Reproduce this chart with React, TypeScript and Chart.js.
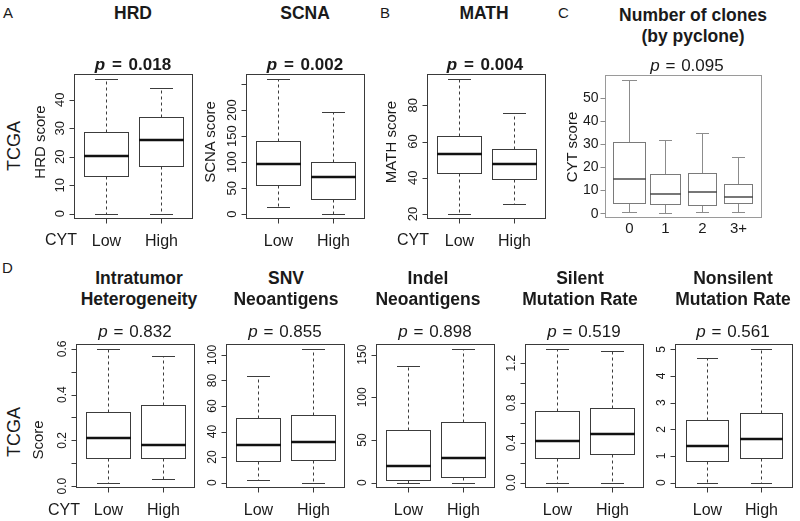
import React, { useEffect, useRef } from "react";
import { Chart, registerables } from "chart.js";

Chart.register(...registerables);

// ---------------- data ----------------
const CYT_GROUPS = ["Low", "High"];
const CLONE_GROUPS = ["0", "1", "2", "3+"];

// five-number summaries: [min whisker, Q1, median, Q3, max whisker]
const HRD_LOW = [0, 13.2, 20.2, 28.7, 47.2];
const HRD_HIGH = [0, 16.6, 26.0, 34.0, 44.3];
const HRD_TICKS = [0, 10, 20, 30, 40];
const HRD_TICK_LABELS = ["0", "10", "20", "30", "40"];

const SCNA_LOW = [13.5, 56.7, 96.8, 141, 259];
const SCNA_HIGH = [1.2, 29.6, 72.2, 101, 196];
const SCNA_TICKS = [0, 50, 100, 150, 200, 250];
const SCNA_TICK_LABELS = ["0", "50", "100", "150", "200", ""];

const MATH_LOW = [20.2, 42.8, 53.0, 63.2, 94.3];
const MATH_HIGH = [25.6, 39.1, 47.6, 55.6, 75.8];
const MATH_TICKS = [20, 40, 60, 80];
const MATH_TICK_LABELS = ["20", "40", "60", "80"];

const CLONES_0 = [0.6, 4.6, 15.0, 30.6, 57.5];
const CLONES_1 = [0.2, 3.9, 8.1, 17.1, 31.8];
const CLONES_2 = [0.4, 3.6, 9.1, 17.5, 34.9];
const CLONES_3P = [0.7, 4.5, 6.8, 12.7, 24.4];
const CLONES_TICKS = [0, 10, 20, 30, 40, 50];
const CLONES_TICK_LABELS = ["0", "10", "20", "30", "40", "50"];

const ITH_LOW = [0.015, 0.122, 0.212, 0.326, 0.598];
const ITH_HIGH = [0.032, 0.122, 0.179, 0.354, 0.568];
const ITH_TICKS = [0, 0.1, 0.2, 0.3, 0.4, 0.5, 0.6];
const ITH_TICK_LABELS = ["0.0", "", "0.2", "", "0.4", "", "0.6"];

const SNV_LOW = [1.8, 16.8, 29.3, 51.0, 83.6];
const SNV_HIGH = [0, 17.8, 32.0, 52.9, 104.4];
const SNV_TICKS = [0, 20, 40, 60, 80, 100];
const SNV_TICK_LABELS = ["0", "20", "40", "60", "80", "100"];

const INDEL_LOW = [0, 3.2, 19.7, 62.0, 136.2];
const INDEL_HIGH = [0, 6.7, 29.4, 70.7, 156.2];
const INDEL_TICKS = [0, 50, 100, 150];
const INDEL_TICK_LABELS = ["0", "50", "100", "150"];

const SILENT_LOW = [0, 0.249, 0.417, 0.723, 1.338];
const SILENT_HIGH = [0, 0.286, 0.488, 0.75, 1.325];
const SILENT_TICKS = [0, 0.2, 0.4, 0.6, 0.8, 1.0, 1.2];
const SILENT_TICK_LABELS = ["0.0", "", "0.4", "", "0.8", "", "1.2"];

const NONSILENT_LOW = [0, 0.8, 1.38, 2.35, 4.66];
const NONSILENT_HIGH = [0, 0.92, 1.64, 2.62, 5.0];
const NONSILENT_TICKS = [0, 1, 2, 3, 4, 5];
const NONSILENT_TICK_LABELS = ["0", "1", "2", "3", "4", "5"];

// ---------------- style / layout ----------------
const FONT = '"Liberation Sans", Arial, Helvetica, sans-serif';
const TEXT = "#1a1a1a";
const PAD = { l: 34, t: 4, r: 4, b: 32 };
const CLONE_BOX_WIDTHS = [0.92, 0.84, 0.8, 0.79];

type Spec = {
  key: string;
  frame: [number, number, number, number];
  groups: string[];
  stats: number[][];
  ticks: number[];
  tickLabels: string[];
  style: "r" | "c";
  tickFont: number;
  widths?: number[];
};

const TOP_T = 74;
const TOP_B = 219;
const BOT_T = 344;
const BOT_B = 488;

const PANELS: Spec[] = [
  { key: "hrd", frame: [74, TOP_T, 193, TOP_B], groups: CYT_GROUPS, stats: [HRD_LOW, HRD_HIGH], ticks: HRD_TICKS, tickLabels: HRD_TICK_LABELS, style: "r", tickFont: 13 },
  { key: "scna", frame: [246, TOP_T, 365, TOP_B], groups: CYT_GROUPS, stats: [SCNA_LOW, SCNA_HIGH], ticks: SCNA_TICKS, tickLabels: SCNA_TICK_LABELS, style: "r", tickFont: 13 },
  { key: "math", frame: [427, TOP_T, 546, TOP_B], groups: CYT_GROUPS, stats: [MATH_LOW, MATH_HIGH], ticks: MATH_TICKS, tickLabels: MATH_TICK_LABELS, style: "r", tickFont: 13 },
  { key: "clones", frame: [605, 75, 762, 218], groups: CLONE_GROUPS, stats: [CLONES_0, CLONES_1, CLONES_2, CLONES_3P], ticks: CLONES_TICKS, tickLabels: CLONES_TICK_LABELS, style: "c", tickFont: 14, widths: CLONE_BOX_WIDTHS },
  { key: "ith", frame: [76, BOT_T, 195, BOT_B], groups: CYT_GROUPS, stats: [ITH_LOW, ITH_HIGH], ticks: ITH_TICKS, tickLabels: ITH_TICK_LABELS, style: "r", tickFont: 12 },
  { key: "snv", frame: [226, BOT_T, 345, BOT_B], groups: CYT_GROUPS, stats: [SNV_LOW, SNV_HIGH], ticks: SNV_TICKS, tickLabels: SNV_TICK_LABELS, style: "r", tickFont: 12 },
  { key: "indel", frame: [376, BOT_T, 495, BOT_B], groups: CYT_GROUPS, stats: [INDEL_LOW, INDEL_HIGH], ticks: INDEL_TICKS, tickLabels: INDEL_TICK_LABELS, style: "r", tickFont: 12 },
  { key: "silent", frame: [525, BOT_T, 644, BOT_B], groups: CYT_GROUPS, stats: [SILENT_LOW, SILENT_HIGH], ticks: SILENT_TICKS, tickLabels: SILENT_TICK_LABELS, style: "r", tickFont: 12 },
  { key: "nonsilent", frame: [675, BOT_T, 793, BOT_B], groups: CYT_GROUPS, stats: [NONSILENT_LOW, NONSILENT_HIGH], ticks: NONSILENT_TICKS, tickLabels: NONSILENT_TICK_LABELS, style: "r", tickFont: 12 },
];

function seg(ctx: CanvasRenderingContext2D, x1: number, y1: number, x2: number, y2: number) {
  ctx.beginPath();
  ctx.moveTo(x1, y1);
  ctx.lineTo(x2, y2);
  ctx.stroke();
}

function makeBoxPlugin(spec: Spec) {
  return {
    id: "box-" + spec.key,
    afterDatasetsDraw(chart: any) {
      const { ctx, chartArea: a } = chart;
      const xs = chart.scales.x;
      const ys = chart.scales.y;
      const isR = spec.style === "r";
      const L = Math.round(a.left) + 0.5;
      const T = Math.round(a.top) + 0.5;
      const Rt = Math.round(a.right) - 0.5;
      const B = Math.round(a.bottom) - 0.5;
      const py = (v: number) => Math.round(ys.getPixelForValue(v)) + 0.5;
      ctx.save();
      ctx.lineCap = "butt";

      spec.stats.forEach((s, i) => {
        const xc = Math.round(xs.getPixelForValue(i + 1)) + 0.5;
        const w = spec.widths ? spec.widths[i] : 0.8;
        const hw = xs.getPixelForValue(i + 1 + w / 2) - xs.getPixelForValue(i + 1);
        const cw = hw * (isR ? 0.5 : 0.45);
        const [yMin, yQ1, , yQ3, yMax] = s.map(py);
        // whiskers
        ctx.lineWidth = 1;
        ctx.strokeStyle = isR ? "#3c3c3c" : "#8c8c8c";
        ctx.setLineDash(isR ? [3, 3] : []);
        seg(ctx, xc, yQ3, xc, yMax);
        seg(ctx, xc, yQ1, xc, yMin);
        ctx.setLineDash([]);
        // staples
        seg(ctx, Math.round(xc - cw), yMax, Math.round(xc + cw), yMax);
        seg(ctx, Math.round(xc - cw), yMin, Math.round(xc + cw), yMin);
        // box
        const bl = Math.round(xc - hw) + 0.5;
        const br = Math.round(xc + hw) - 0.5;
        ctx.fillStyle = "#ffffff";
        ctx.fillRect(bl, yQ3, br - bl, yQ1 - yQ3);
        ctx.strokeStyle = isR ? "#3c3c3c" : "#7a7a7a";
        ctx.strokeRect(bl, yQ3, br - bl, yQ1 - yQ3);
        // median
        ctx.strokeStyle = isR ? "#111111" : "#4a4a4a";
        ctx.lineWidth = isR ? 2.6 : 1.5;
        const ym = Math.round(ys.getPixelForValue(s[2]));
        seg(ctx, bl - 0.5, ym, br + 0.5, ym);
        ctx.lineWidth = 1;
      });

      // frame
      ctx.strokeStyle = isR ? "#3a3a3a" : "#9a9a9a";
      ctx.lineWidth = 1;
      ctx.strokeRect(L, T, Rt - L, B - T);

      // y ticks + labels
      ctx.fillStyle = TEXT;
      ctx.font = `${spec.tickFont}px ${FONT}`;
      spec.ticks.forEach((v, i) => {
        const y = py(v);
        ctx.strokeStyle = isR ? "#3a3a3a" : "#8c8c8c";
        seg(ctx, L - 5, y, L, y);
        const lab = spec.tickLabels[i];
        if (!lab) return;
        if (isR) {
          ctx.save();
          ctx.translate(L - 14, ys.getPixelForValue(v));
          ctx.rotate(-Math.PI / 2);
          ctx.textAlign = "center";
          ctx.textBaseline = "middle";
          ctx.fillText(lab, 0, 0);
          ctx.restore();
        } else {
          ctx.textAlign = "right";
          ctx.textBaseline = "middle";
          ctx.fillText(lab, L - 7, ys.getPixelForValue(v) + 0.5);
        }
      });

      // x ticks + labels
      ctx.font = `${isR ? 16 : 15}px ${FONT}`;
      ctx.textAlign = "center";
      ctx.textBaseline = "alphabetic";
      spec.groups.forEach((g, i) => {
        const x = Math.round(xs.getPixelForValue(i + 1)) + 0.5;
        if (isR) {
          ctx.strokeStyle = "#3a3a3a";
          seg(ctx, x, B, x, B + 5);
          ctx.fillText(g, x, B + 27);
        } else {
          ctx.fillText(g, x, B + 15);
        }
      });
      ctx.restore();
    },
  };
}

function BoxPanel({ spec }: { spec: Spec }) {
  const ref = useRef<HTMLCanvasElement | null>(null);
  const [l, t, r, b] = spec.frame;
  const W = r - l + PAD.l + PAD.r;
  const H = b - t + PAD.t + PAD.b;

  useEffect(() => {
    if (!ref.current) return;
    const n = spec.groups.length;
    const lo = Math.min(...spec.stats.map((s) => s[0]));
    const hi = Math.max(...spec.stats.map((s) => s[4]));
    const yPad = (hi - lo) * 0.04;
    const xPad = n * 0.04;
    const chart = new Chart(ref.current, {
      type: "scatter",
      data: {
        datasets: [
          {
            data: spec.stats.map((s, i) => ({ x: i + 1, y: s[2] })),
            pointRadius: 0,
            showLine: false,
          },
        ],
      },
      options: {
        animation: false,
        responsive: false,
        maintainAspectRatio: false,
        events: [],
        layout: { padding: { left: PAD.l, top: PAD.t, right: PAD.r, bottom: PAD.b } },
        plugins: { legend: { display: false }, tooltip: { enabled: false }, title: { display: false } },
        scales: {
          x: { type: "linear", display: false, min: 0.5 - xPad, max: n + 0.5 + xPad },
          y: { type: "linear", display: false, min: lo - yPad, max: hi + yPad },
        },
      },
      plugins: [makeBoxPlugin(spec)],
    } as any);
    return () => chart.destroy();
  }, [spec]);

  return (
    <canvas
      ref={ref}
      width={W}
      height={H}
      style={{ position: "absolute", left: l - PAD.l, top: t - PAD.t, width: W, height: H }}
    />
  );
}

function Txt({ x, y, size, bold, align = "center", children, ws = 0, color = TEXT }: any) {
  const style: React.CSSProperties = {
    position: "absolute",
    left: x,
    top: y - 0.8465 * size,
    fontSize: size,
    lineHeight: 1,
    fontWeight: bold ? 700 : 400,
    whiteSpace: "nowrap",
    fontFamily: FONT,
    color,
    wordSpacing: ws,
    transform: align === "center" ? "translateX(-50%)" : undefined,
  };
  return <div style={style}>{children}</div>;
}

// rotated label: fixed-size box centred on (x, y), text centred inside it
function VTxt({ x, y, size, children }: any) {
  const w = 120;
  const h = Math.ceil(size * 1.2);
  return (
    <div
      style={{
        position: "absolute",
        left: Math.round(x - w / 2),
        top: Math.round(y - h / 2),
        width: w,
        height: h,
        fontSize: size,
        lineHeight: `${h}px`,
        textAlign: "center",
        whiteSpace: "nowrap",
        fontFamily: FONT,
        color: TEXT,
        transform: "rotate(-90deg)",
      }}
    >
      {children}
    </div>
  );
}

function P({ v }: { v: string }) {
  return (
    <>
      <i>p</i> = {v}
    </>
  );
}

export default function App() {
  return (
    <div
      style={{
        position: "absolute",
        left: 0,
        top: 0,
        width: 800,
        height: 521,
        background: "#ffffff",
        overflow: "hidden",
        fontFamily: FONT,
      }}
    >
      {PANELS.map((s) => (
        <BoxPanel key={s.key} spec={s} />
      ))}

      {/* panel letters */}
      <Txt x={3} y={18} size={15} align="left">A</Txt>
      <Txt x={380} y={18} size={15} align="left">B</Txt>
      <Txt x={558} y={18} size={15} align="left">C</Txt>
      <Txt x={2} y={273} size={15} align="left">D</Txt>

      {/* top titles */}
      <Txt x={133} y={20} size={17.5} bold>HRD</Txt>
      <Txt x={305} y={20} size={17.5} bold>SCNA</Txt>
      <Txt x={484} y={20} size={17.5} bold>MATH</Txt>
      <Txt x={693} y={21.5} size={17.5} bold>Number of clones</Txt>
      <Txt x={693} y={42.5} size={17.5} bold>(by pyclone)</Txt>

      <Txt x={133} y={70.5} size={17} bold ws={2}><P v="0.018" /></Txt>
      <Txt x={305} y={70.5} size={17} bold ws={2}><P v="0.002" /></Txt>
      <Txt x={485} y={70.5} size={17} bold ws={2}><P v="0.004" /></Txt>
      <Txt x={687} y={71.5} size={17} ws={1}><P v="0.095" /></Txt>

      {/* top axis titles */}
      <VTxt x={14} y={146} size={18}>TCGA</VTxt>
      <VTxt x={40} y={142} size={15}>HRD score</VTxt>
      <VTxt x={210} y={142} size={15}>SCNA score</VTxt>
      <VTxt x={391} y={142} size={15}>MATH score</VTxt>
      <VTxt x={572} y={147} size={15}>CYT score</VTxt>
      <Txt x={61} y={246} size={16}>CYT</Txt>
      <Txt x={413} y={246} size={16}>CYT</Txt>

      {/* bottom titles */}
      <Txt x={139} y={285} size={17.5} bold>Intratumor</Txt>
      <Txt x={139} y={306} size={17.5} bold>Heterogeneity</Txt>
      <Txt x={286} y={285} size={17.5} bold>SNV</Txt>
      <Txt x={286} y={306} size={17.5} bold>Neoantigens</Txt>
      <Txt x={428} y={285} size={17.5} bold>Indel</Txt>
      <Txt x={428} y={306} size={17.5} bold>Neoantigens</Txt>
      <Txt x={580} y={285} size={17.5} bold>Silent</Txt>
      <Txt x={580} y={306} size={17.5} bold>Mutation Rate</Txt>
      <Txt x={733} y={285} size={17.5} bold>Nonsilent</Txt>
      <Txt x={733} y={306} size={17.5} bold>Mutation Rate</Txt>

      <Txt x={135} y={337} size={17} ws={1}><P v="0.832" /></Txt>
      <Txt x={285} y={337} size={17} ws={1}><P v="0.855" /></Txt>
      <Txt x={435} y={337} size={17} ws={1}><P v="0.898" /></Txt>
      <Txt x={584} y={337} size={17} ws={1}><P v="0.519" /></Txt>
      <Txt x={733} y={337} size={17} ws={1}><P v="0.561" /></Txt>

      <VTxt x={14} y={432} size={18}>TCGA</VTxt>
      <VTxt x={38} y={440} size={15}>Score</VTxt>
      <Txt x={64} y={516} size={16}>CYT</Txt>
    </div>
  );
}
